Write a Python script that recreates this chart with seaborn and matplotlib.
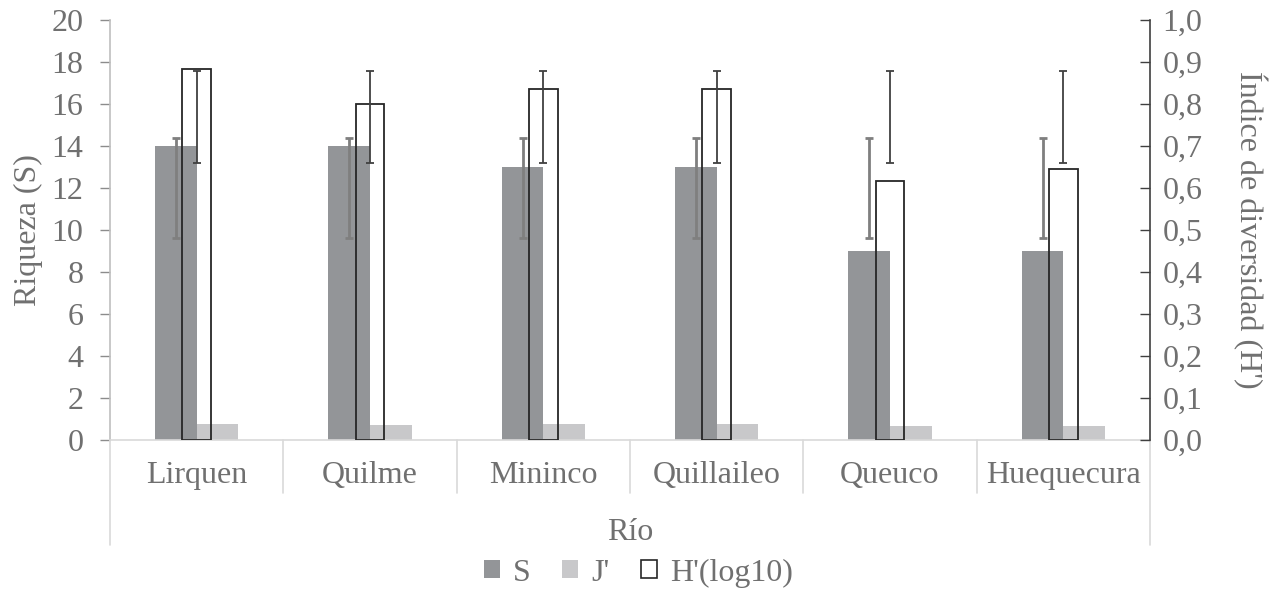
import numpy as np
import pandas as pd
import matplotlib
matplotlib.use("Agg")
import matplotlib.pyplot as plt
from matplotlib.patches import Patch
from matplotlib.ticker import FuncFormatter
import seaborn as sns

# Data per river
rios = ["Lirquen", "Quilme", "Mininco", "Quillaileo", "Queuco", "Huequecura"]
riqueza_S = [14, 14, 13, 13, 9, 9]
equidad_J = [0.77, 0.70, 0.75, 0.75, 0.65, 0.68]
shannon_H = [0.883, 0.799, 0.835, 0.835, 0.617, 0.645]

series_names = ["S", "J'", "H'(log10)"]
ticks_S = list(range(0, 21, 2))
ticks_H = [i / 10 for i in range(0, 11)]

# Colours and fonts
c_S = "#939598"
c_J = "#c8c8ca"
c_H = "#262626"
c_text = "#707070"
fs = 23

sns.set_theme(style="white")
plt.rcParams["font.family"] = ["Liberation Serif", "DejaVu Serif"]
plt.rcParams["text.color"] = c_text
plt.rcParams["axes.labelcolor"] = c_text
plt.rcParams["xtick.color"] = c_text
plt.rcParams["ytick.color"] = c_text

fig = plt.figure(figsize=(12.77, 5.91), dpi=100)
ax = fig.add_axes([110 / 1277, 1 - 440 / 591, 1040 / 1277, 420 / 591])

# Primary axis: S and J' side by side
df_prim = pd.DataFrame({
    "Río": rios * 2,
    "serie": [series_names[0]] * len(rios) + [series_names[1]] * len(rios),
    "valor": riqueza_S + equidad_J,
})
sns.barplot(data=df_prim, x="Río", y="valor", hue="serie", order=rios,
            hue_order=series_names[:2], palette=[c_S, c_J], width=0.48,
            gap=0, errorbar=None, legend=False, ax=ax, saturation=1,
            linewidth=0)

# Standard deviation bars centred on the series mean
S_arr = np.array(riqueza_S, dtype=float)
x = np.arange(len(rios))
ax.errorbar(x - 0.12, np.full(len(rios), S_arr.mean()),
            yerr=S_arr.std(ddof=1), fmt="none", ecolor="#7f7f7f",
            elinewidth=2, capsize=3, capthick=2, zorder=5)

ax.set_ylim(0, 20)
ax.set_yticks(ticks_S)
ax.set_xlim(-0.5, len(rios) - 0.5)

# Secondary axis: H' as outlined bars
ax2 = ax.twinx()
df_h = pd.DataFrame({"Río": rios, "H": shannon_H})
sns.barplot(data=df_h, x="Río", y="H", order=rios, color=c_H, fill=False,
            width=0.167, errorbar=None, ax=ax2, linewidth=1.3)
H_arr = np.array(shannon_H)
ax2.errorbar(x, np.full(len(rios), H_arr.mean()), yerr=H_arr.std(ddof=1),
             fmt="none", ecolor="#404040", elinewidth=1.3, capsize=3,
             capthick=1.3, zorder=6)
ax2.set_ylim(0, 1.0)
ax2.set_yticks(ticks_H)
ax2.yaxis.set_major_formatter(FuncFormatter(lambda v, p: f"{v:.1f}".replace(".", ",")))
ax2.set_xlim(-0.5, len(rios) - 0.5)

# Spines and ticks
for s in ["top", "right"]:
    ax.spines[s].set_visible(False)
ax.spines["left"].set_color("#bfbfbf")
ax.spines["bottom"].set_color("#d9d9d9")
ax.spines["left"].set_linewidth(1.2)
ax.spines["bottom"].set_linewidth(1.2)
for s in ["top", "left", "bottom"]:
    ax2.spines[s].set_visible(False)
ax2.spines["right"].set_color("#404040")
ax2.spines["right"].set_linewidth(1.2)

ax.tick_params(axis="y", direction="out", length=7, width=1, color="#8c8c8c",
               labelsize=fs, pad=12, left=True)
ax2.tick_params(axis="y", direction="in", length=7, width=1, color="#404040",
                labelsize=fs, pad=9, right=True)
ax.tick_params(axis="x", length=0, labelsize=fs, pad=15)
ax2.tick_params(axis="x", length=0, labelbottom=False)

ax.set_ylabel("Riqueza (S)", fontsize=fs)
ax.yaxis.set_label_coords((28 - 110) / 1040, 0.5)
ax.yaxis.label.set_va("center")
ax2.set_ylabel("Índice de diversidad (H')", fontsize=fs, rotation=270)
ax2.yaxis.set_label_coords((1250 - 110) / 1040, 0.5)
ax2.yaxis.label.set_va("center")
ax.set_xlabel("Río", fontsize=fs, labelpad=20)

# Category axis frame below the plot
xt = ax.get_xaxis_transform()
for k in range(1, len(rios)):
    ax.plot([k - 0.5, k - 0.5], [0, -53 / 420], transform=xt, color="#d9d9d9",
            lw=1.2, clip_on=False)
for xa in (-0.5, len(rios) - 0.5):
    ax.plot([xa, xa], [0, -105 / 420], transform=xt, color="#d9d9d9",
            lw=1.2, clip_on=False)

# Legend
handles = [Patch(facecolor=c_S, edgecolor="none"),
           Patch(facecolor=c_J, edgecolor="none"),
           Patch(facecolor="white", edgecolor=c_H, linewidth=1.2)]
fig.legend(handles, series_names, loc="center", bbox_to_anchor=(0.5, 1 - 573 / 591),
           ncol=3, frameon=False, fontsize=fs, handlelength=0.5, handleheight=0.5,
           handletextpad=0.4, columnspacing=1.0)

fig.savefig("out.png", dpi=100, facecolor="white")
